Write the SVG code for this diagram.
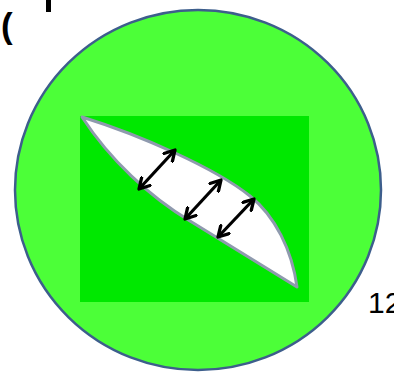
<svg xmlns="http://www.w3.org/2000/svg" width="394" height="375" viewBox="0 0 394 375">
<defs>
<style>
.lbl{font-family:"Liberation Sans",Arial,sans-serif;fill:#000}
.arr{stroke:#000;stroke-width:3.2;fill:none;marker-start:url(#hd);marker-end:url(#hd)}
</style>
<marker id="hd" viewBox="0 0 10 10" refX="8" refY="5" markerWidth="4.5" markerHeight="4.5" orient="auto-start-reverse" markerUnits="strokeWidth">
<path d="M1,1 L8,5 L1,9" fill="none" stroke="#000" stroke-width="2.3" stroke-linecap="round" stroke-linejoin="round"/>
</marker>
</defs>
<rect width="394" height="375" fill="#fff"/>
<g id="label-top">
<text class="lbl" x="1" y="38" font-size="35" font-weight="bold">(</text>
<rect x="46" y="0" width="5" height="12" fill="#000"/>
</g>
<g id="cell">
<ellipse cx="198" cy="190" rx="183" ry="180" fill="#4cff38" stroke="#3d5e8c" stroke-width="2.5"/>
</g>
<g id="inner">
<rect x="80" y="116" width="229" height="186" fill="#00e800"/>
</g>
<g id="lens">
<path d="M82,117 C140,135 215,168 250,196 C275,216 292,250 297,287 L190,221 C150,197 110,160 82,117 Z" fill="#fff" stroke="#8f9aae" stroke-width="3" stroke-linejoin="round"/>
</g>
<g id="connectors">
<line class="arr" x1="139" y1="189" x2="175" y2="150"/>
<line class="arr" x1="185" y1="219" x2="221" y2="180"/>
<line class="arr" x1="218" y1="237" x2="254" y2="199"/>
</g>
<g id="label-12">
<text class="lbl" x="368" y="313" font-size="30">12</text>
</g>
</svg>
